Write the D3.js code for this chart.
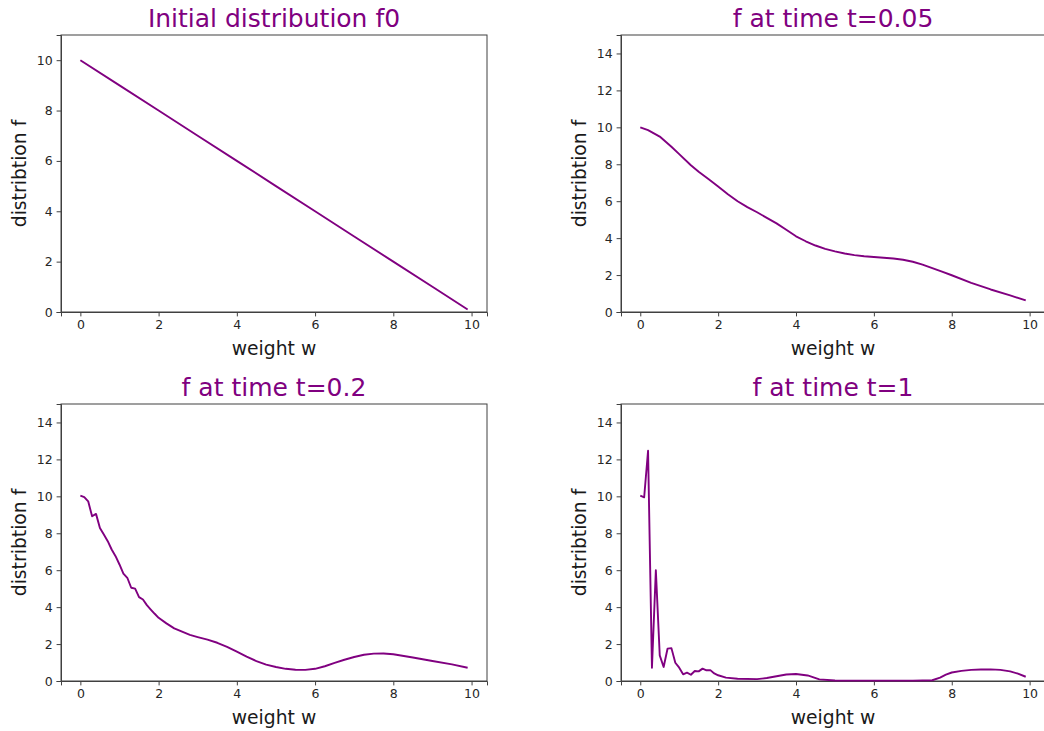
<!DOCTYPE html>
<html>
<head>
<meta charset="utf-8">
<script src="https://cdn.jsdelivr.net/npm/d3@7"></script>
<style>
  body { margin: 0; background: #fff; }
  svg text { font-family: "DejaVu Sans", sans-serif; }
  .tick text { font-size: 12.5px; fill: #262626; }
  .domain, .tick line { stroke: #404040; }
</style>
</head>
<body>
<div id="chart"></div>
<script>
// values
var w0 = [0, 1, 2, 3, 4, 5, 6, 7, 8, 9, 9.9];
var f0 = [10, 9, 8, 7, 6, 5, 4, 3, 2, 1, 0.1];

var w005 = [0, 0.2, 0.5, 0.8, 1, 1.3, 1.5, 1.75, 2, 2.25, 2.5, 2.75, 3, 3.25, 3.5, 3.75, 4, 4.25, 4.5, 4.75, 5, 5.25, 5.5, 5.75,
            6, 6.25, 6.5, 6.75, 7, 7.25, 7.5, 7.75, 8, 8.5, 9, 9.5, 9.9];
var f005 = [10.0, 9.85, 9.5, 8.95, 8.55, 7.95, 7.6, 7.2, 6.8, 6.38, 6.0, 5.68, 5.4, 5.1, 4.8, 4.45, 4.1, 3.83, 3.6, 3.42, 3.28, 3.17, 3.08, 3.02,
            2.98, 2.94, 2.9, 2.83, 2.72, 2.57, 2.38, 2.19, 1.99, 1.58, 1.22, 0.9, 0.63];

var w02 = [0, 0.1, 0.2, 0.3, 0.4, 0.5, 0.6, 0.7, 0.8, 0.9, 1.0, 1.1, 1.2, 1.3, 1.4, 1.5, 1.6, 1.7, 1.8, 1.9, 2.0,
           2.2, 2.4, 2.6, 2.8, 3.0, 3.25, 3.5, 3.75, 4, 4.25, 4.5, 4.75, 5, 5.25, 5.5, 5.75, 6, 6.25, 6.5, 6.75, 7, 7.25, 7.5, 7.75, 8,
           8.5, 9, 9.5, 9.9];
var f02 = [10.04, 9.96, 9.73, 8.92, 9.05, 8.29, 7.93, 7.57, 7.12, 6.76, 6.31, 5.82, 5.59, 5.05, 5.0, 4.54, 4.41, 4.11, 3.87, 3.64, 3.42,
           3.12, 2.85, 2.67, 2.5, 2.38, 2.24, 2.07, 1.85, 1.59, 1.32, 1.08, 0.89, 0.76, 0.66, 0.61, 0.6, 0.66, 0.8, 0.98, 1.15, 1.3, 1.42, 1.48, 1.49, 1.45,
           1.27, 1.08, 0.9, 0.72];

var w1 = [0, 0.1, 0.2, 0.3, 0.4, 0.5, 0.6, 0.7, 0.8, 0.9, 1.0, 1.1, 1.2, 1.3, 1.4, 1.5, 1.6, 1.7, 1.8, 1.9, 2.0,
          2.2, 2.5, 3, 3.25, 3.5, 3.75, 4, 4.3, 4.6, 5, 6, 7, 7.5, 7.7, 7.85, 8, 8.25, 8.5, 8.75, 9, 9.25, 9.5, 9.7, 9.9];
var f1 = [10.04, 9.95, 12.47, 0.72, 6.0, 1.39, 0.76, 1.75, 1.78, 0.99, 0.72, 0.36, 0.45, 0.34, 0.54, 0.52, 0.67, 0.58, 0.59, 0.41, 0.31,
          0.18, 0.12, 0.1, 0.16, 0.26, 0.35, 0.38, 0.3, 0.09, 0.03, 0.02, 0.02, 0.04, 0.18, 0.34, 0.46, 0.55, 0.6, 0.62, 0.63, 0.6, 0.52, 0.4, 0.23];

var panels = [
  {title: "Initial distribution f0", w: w0, f: f0, ymax: 11, yticks: [0, 2, 4, 6, 8, 10], left: 61, top: 35, right: 487, bottom: 312},
  {title: "f at time t=0.05", w: w005, f: f005, ymax: 15, yticks: [0, 2, 4, 6, 8, 10, 12, 14], left: 621, top: 35, right: 1045, bottom: 312},
  {title: "f at time t=0.2", w: w02, f: f02, ymax: 15, yticks: [0, 2, 4, 6, 8, 10, 12, 14], left: 61, top: 404, right: 487, bottom: 681},
  {title: "f at time t=1", w: w1, f: f1, ymax: 15, yticks: [0, 2, 4, 6, 8, 10, 12, 14], left: 621, top: 404, right: 1045, bottom: 681}
];
var xticks = [0, 2, 4, 6, 8, 10];

var svg = d3.select("#chart")
  .append("svg")
  .attr("width", 1044)
  .attr("height", 731);

panels.forEach(function(p) {
  var x = d3.scaleLinear().domain([-0.495, 10.395]).range([p.left, p.right]);
  var y = d3.scaleLinear().domain([0, p.ymax]).range([p.bottom, p.top]);

  var g = svg.append("g");

  // frame
  g.append("rect")
    .attr("x", p.left).attr("y", p.top)
    .attr("width", p.right - p.left).attr("height", p.bottom - p.top)
    .attr("fill", "none").attr("stroke", "#404040").attr("stroke-width", 1);

  g.append("g")
    .attr("transform", "translate(0," + p.bottom + ")")
    .call(d3.axisBottom(x).tickValues(xticks).tickSize(4.4).tickPadding(4).tickFormat(d3.format("d")))
    .call(function(a) { a.selectAll("text").attr("font-size", 12.5).attr("font-family", "DejaVu Sans"); });

  g.append("g")
    .attr("transform", "translate(" + p.left + ",0)")
    .call(d3.axisLeft(y).tickValues(p.yticks).tickSize(4.4).tickPadding(4).tickFormat(d3.format("d")))
    .call(function(a) { a.selectAll("text").attr("font-size", 12.5).attr("font-family", "DejaVu Sans"); });

  var line = d3.line()
    .x(function(d, i) { return x(p.w[i]); })
    .y(function(d) { return y(d); });

  g.append("path")
    .datum(p.f)
    .attr("d", line)
    .attr("fill", "none")
    .attr("stroke", "#800080")
    .attr("stroke-width", 1.9)
    .attr("stroke-linejoin", "round");

  g.append("text")
    .attr("x", (p.left + p.right) / 2)
    .attr("y", p.top - 8)
    .attr("text-anchor", "middle")
    .attr("font-size", 25)
    .attr("fill", "#800080")
    .text(p.title);

  g.append("text")
    .attr("x", (p.left + p.right) / 2)
    .attr("y", p.bottom + 43)
    .attr("text-anchor", "middle")
    .attr("font-size", 18.75)
    .attr("fill", "#1a1a1a")
    .text("weight w");

  g.append("text")
    .attr("transform", "translate(" + (p.left - 35) + "," + ((p.top + p.bottom) / 2) + ") rotate(-90)")
    .attr("text-anchor", "middle")
    .attr("font-size", 18.75)
    .attr("fill", "#1a1a1a")
    .text("distribtion f");
});
</script>
</body>
</html>
